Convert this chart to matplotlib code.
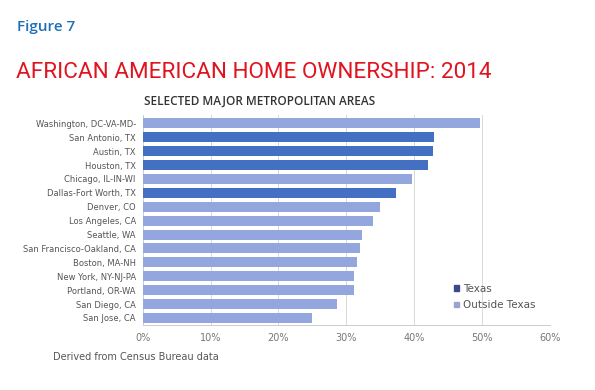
import matplotlib
matplotlib.use("Agg")
import matplotlib.pyplot as plt
from matplotlib.patches import Patch

metros = ["Washington, DC-VA-MD-", "San Antonio, TX", "Austin, TX", "Houston, TX",
          "Chicago, IL-IN-WI", "Dallas-Fort Worth, TX", "Denver, CO", "Los Angeles, CA",
          "Seattle, WA", "San Francisco-Oakland, CA", "Boston, MA-NH", "New York, NY-NJ-PA",
          "Portland, OR-WA", "San Diego, CA", "San Jose, CA"]
ownership = [49.7, 43.0, 42.8, 42.0, 39.7, 37.3, 34.9, 33.9, 32.3, 32.0, 31.6, 31.1, 31.2, 28.6, 25.0]
is_texas = [False, True, True, True, False, True, False, False, False, False, False, False, False, False, False]
xticks = [0, 10, 20, 30, 40, 50, 60]
xtick_labels = ["0%", "10%", "20%", "30%", "40%", "50%", "60%"]

TEXAS_C = "#4470c4"
OUT_C = "#93a6de"

fig = plt.figure(figsize=(5.95, 3.90), dpi=100)
ax = fig.add_axes([0.240, 0.167, 0.684, 0.538])

ypos = list(range(len(metros)))
colors = [TEXAS_C if t else OUT_C for t in is_texas]
ax.barh(ypos, ownership, height=0.72, color=colors, zorder=3)
ax.set_ylim(len(metros) - 0.5, -0.6)
ax.set_xlim(0, 60)
ax.set_xticks(xticks)
ax.set_xticklabels(xtick_labels, fontsize=7, color="#777777")
ax.set_yticks(ypos)
ax.set_yticklabels(metros, fontsize=6, color="#555555")
ax.tick_params(axis="both", length=0, pad=6)
ax.tick_params(axis="y", pad=5)
ax.grid(axis="x", color="#d8d8d8", linewidth=0.7, zorder=0)
for s in ["top", "right"]:
    ax.spines[s].set_visible(False)
ax.spines["left"].set_color("#cccccc")
ax.spines["bottom"].set_color("#cccccc")
ax.spines["left"].set_linewidth(0.7)
ax.spines["bottom"].set_linewidth(0.7)

handles = [Patch(color="#3d4a8a", label="Texas"), Patch(color="#9aa5cc", label="Outside Texas")]
leg = ax.legend(handles=handles, loc="lower left", bbox_to_anchor=(0.755, 0.05),
                frameon=False, fontsize=7.5, handlelength=0.5, handleheight=0.5,
                handletextpad=0.3, labelspacing=0.6, borderaxespad=0)
for t in leg.get_texts():
    t.set_color("#555555")

fig.text(0.028, 0.932, "Figure 7", fontsize=11, color="#1f6fb8", fontweight="semibold",
         family="Open Sans", va="center", ha="left")
fig.text(0.027, 0.815, "AFRICAN AMERICAN HOME OWNERSHIP: 2014", fontsize=16.2, color="#e0141e",
         family=["Roboto", "DejaVu Sans"], va="center", ha="left")
fig.text(0.437, 0.741, "SELECTED MAJOR METROPOLITAN AREAS", fontsize=8.5, color="#333333",
         va="center", ha="center", fontweight="semibold", family="Open Sans")
fig.text(0.089, 0.085, "Derived from Census Bureau data", fontsize=7, color="#555555",
         va="center", ha="left")

fig.savefig("out.png", dpi=100, facecolor="white")
